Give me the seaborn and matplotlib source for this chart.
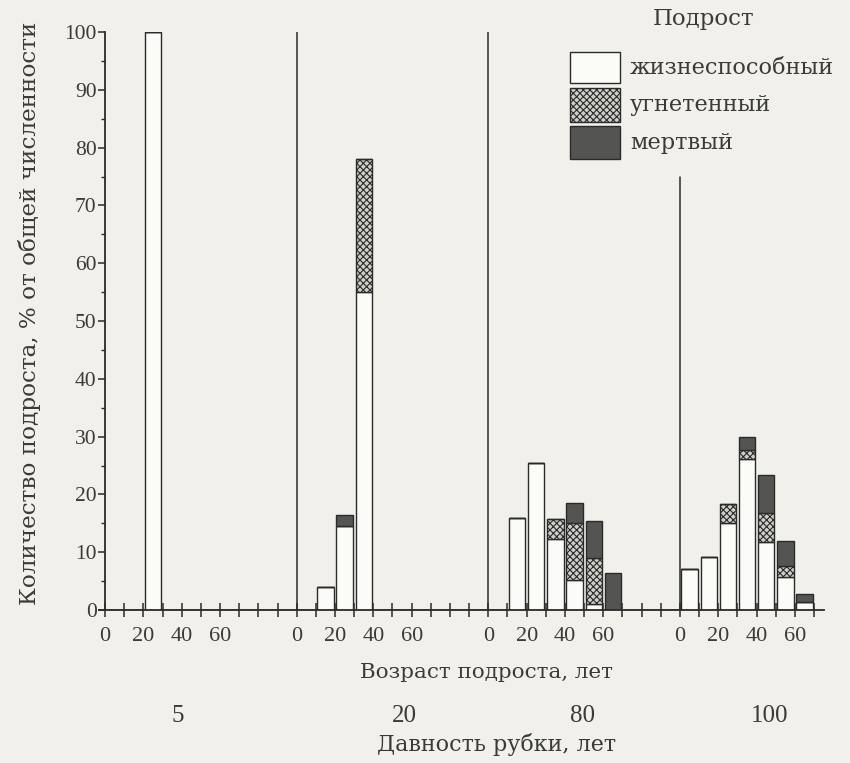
import numpy as np
import pandas as pd
import matplotlib
matplotlib.use("Agg")
import matplotlib.pyplot as plt
from matplotlib.patches import Rectangle
from matplotlib.ticker import FixedLocator, MultipleLocator
from matplotlib.transforms import blended_transform_factory
import seaborn as sns

# ---------------- data ----------------
cut_ages = [5, 20, 80, 100]                      # давность рубки, лет
panel = [5, 20, 20, 20, 80, 80, 80, 80, 80, 80, 100, 100, 100, 100, 100, 100, 100]
age_start = [20, 10, 20, 30, 10, 20, 30, 40, 50, 60, 0, 10, 20, 30, 40, 50, 60]
alive = [100, 4, 14.5, 55, 16, 25.5, 12.3, 5.2, 1.0, 0, 7.1, 9.2, 15.0, 26.1, 11.8, 5.7, 1.4]
suppressed = [0, 0, 0, 23, 0, 0, 3.4, 9.8, 8.0, 0, 0, 0, 3.3, 1.6, 4.9, 1.9, 0]
dead = [0, 0, 2.0, 0, 0, 0, 0, 3.5, 6.4, 6.4, 0, 0, 0, 2.2, 6.6, 4.3, 1.4]
age_tick_labels = [0, 20, 40, 60]
state_labels = ["жизнеспособный", "угнетенный", "мертвый"]
legend_title = "Подрост"
xlabel = "Возраст подроста, лет"
ylabel = "Количество подроста, % от общей численности"
bottom_label = "Давность рубки, лет"

# ---------------- style ----------------
BG = "#f1f0eb"
INK = "#2a2a2a"
TXT = "#3a3a3a"
colors = {"жизнеспособный": "#fbfbf7", "угнетенный": "#cfcfc9", "мертвый": "#545452"}
NUM_FONT = ["Liberation Serif", "DejaVu Serif"]
WORD_FONT = ["DejaVu Serif", "Liberation Serif"]

sns.set_theme(style="ticks")
plt.rcParams["font.family"] = NUM_FONT
plt.rcParams["hatch.color"] = "#333333"
plt.rcParams["hatch.linewidth"] = 0.8
plt.rcParams["text.color"] = TXT
plt.rcParams["axes.edgecolor"] = INK
plt.rcParams["xtick.color"] = INK
plt.rcParams["ytick.color"] = INK
plt.rcParams["xtick.labelcolor"] = TXT
plt.rcParams["ytick.labelcolor"] = TXT

PANEL_W = 100
BIN = 10
rows = []
for p, a, v1, v2, v3 in zip(panel, age_start, alive, suppressed, dead):
    gx = cut_ages.index(p) * PANEL_W + a + BIN / 2
    for s, v in zip(state_labels, (v1, v2, v3)):
        rows.append({"gx": gx, "state": s, "value": v})
long = pd.DataFrame(rows)

W, H = 850, 763
fig = plt.figure(figsize=(W / 100, H / 100), dpi=100, facecolor=BG)

x0, x1 = -3, 375
px_per = (680 - 105) / 300.0
left_px = 105 + x0 * px_per
right_px = 105 + x1 * px_per
ax = fig.add_axes([left_px / W, 1 - 610 / H, (right_px - left_px) / W, (610 - 32) / H])
ax.set_facecolor(BG)

x_end = len(cut_ages) * PANEL_W - 30
sns.histplot(data=long, x="gx", weights="value", hue="state",
             hue_order=["мертвый", "угнетенный", "жизнеспособный"],
             multiple="stack", binwidth=BIN, binrange=(0, x_end), palette=colors, alpha=1,
             edgecolor=INK, linewidth=1.0, shrink=0.86, legend=False, ax=ax)

supp_rgb = matplotlib.colors.to_rgb(colors["угнетенный"])
for patch in ax.patches:
    if np.allclose(patch.get_facecolor()[:3], supp_rgb, atol=0.01):
        patch.set_hatch("xxxxx")

# panel separator lines
sep_tops = [100, 100, 75]
for i, top in enumerate(sep_tops, start=1):
    ax.plot([i * PANEL_W, i * PANEL_W], [0, top], color=INK, lw=1.1, zorder=1)

ax.set_xlim(x0, x1)
ax.set_ylim(0, 100)
ax.spines["left"].set_position(("data", 0))
ax.spines["left"].set_bounds(0, 100)
ax.spines["top"].set_visible(False)
ax.spines["right"].set_visible(False)
for sp in ("left", "bottom"):
    ax.spines[sp].set_linewidth(1.3)

ax.yaxis.set_major_locator(MultipleLocator(10))
ax.yaxis.set_minor_locator(MultipleLocator(5))
ax.tick_params(axis="y", which="major", direction="out", length=5, width=1.1,
               labelsize=15.5, pad=1)
ax.tick_params(axis="y", which="minor", direction="out", length=3, width=1.0)

xt, xl = [], []
for i in range(len(cut_ages)):
    for a in age_tick_labels:
        xt.append(i * PANEL_W + a)
        xl.append(str(a))
ax.set_xticks(xt)
ax.set_xticklabels(xl)
ax.xaxis.set_minor_locator(FixedLocator(list(np.arange(0, x_end + 1, BIN))))
ax.tick_params(axis="x", which="both", direction="inout", length=10, width=1.1,
               labelsize=16, pad=7)
ax.set_xlabel("")
ax.set_ylabel("")

# labels
fig.text(30 / W, 1 - 313 / H, ylabel, rotation=90, ha="center", va="center",
         fontsize=16.7, family=WORD_FONT)
fig.text(486 / W, 1 - 673 / H, xlabel, ha="center", va="center", fontsize=15.4, family=WORD_FONT)
fig.text(497 / W, 1 - 744 / H, bottom_label, ha="center", va="center", fontsize=16,
         family=WORD_FONT)
tr = blended_transform_factory(ax.transData, fig.transFigure)
panel_label_offsets = [38, 56, 49, 47]
for i, (c, off) in enumerate(zip(cut_ages, panel_label_offsets)):
    ax.text(i * PANEL_W + off, 1 - 716 / H, str(c), transform=tr, ha="center", va="center",
            fontsize=18, clip_on=False)

# legend (manual)
fig.text(704 / W, 1 - 19 / H, legend_title, ha="center", va="center", fontsize=16.5,
         family=WORD_FONT)
box_rows = [(52, 83), (88, 122), (126, 159)]
for (yt, yb), s in zip(box_rows, state_labels):
    r = Rectangle((570 / W, 1 - yb / H), 50 / W, (yb - yt) / H, transform=fig.transFigure,
                  facecolor=colors[s], edgecolor=INK, lw=1.0,
                  hatch="xxxxx" if s == "угнетенный" else None)
    fig.add_artist(r)
    fig.text(630 / W, 1 - ((yt + yb) / 2) / H, s, ha="left", va="center", fontsize=16.2,
             family=WORD_FONT)

fig.savefig("out.png", dpi=100, facecolor=BG)
